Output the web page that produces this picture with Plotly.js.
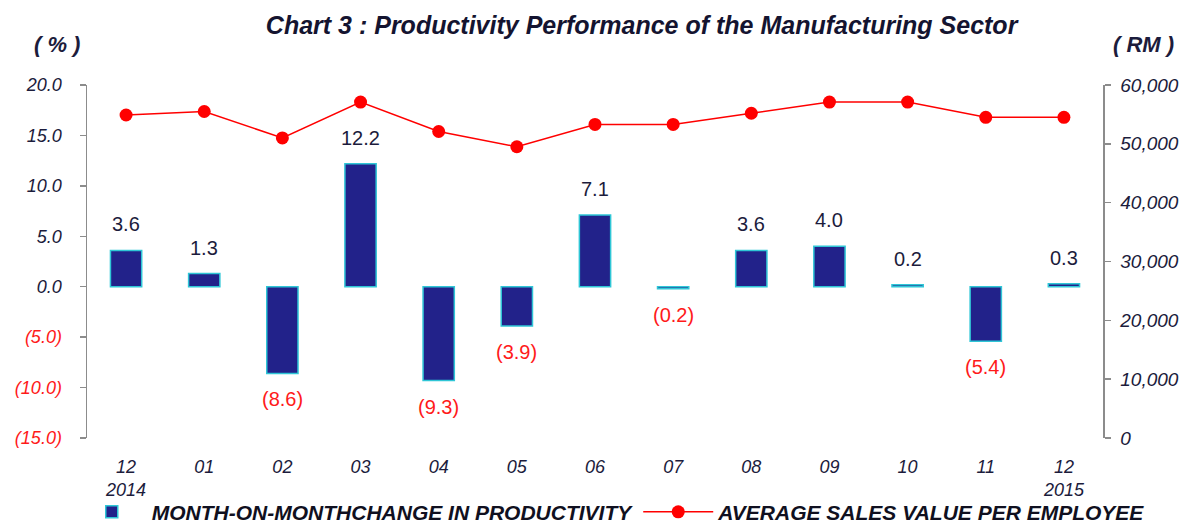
<!DOCTYPE html>
<html>
<head>
<meta charset="utf-8">
<script src="https://cdn.plot.ly/plotly-3.0.1.min.js"></script>
<style>
html,body{margin:0;padding:0;background:#fff;}
#chart{width:1186px;height:526px;}
</style>
</head>
<body>
<div id="chart"></div>
<script>
// ---- data ----
var months = ["12", "01", "02", "03", "04", "05", "06", "07", "08", "09", "10", "11", "12"];
var years  = ["2014", "", "", "", "", "", "", "", "", "", "", "", "2015"];
var momChange = [3.6, 1.3, -8.6, 12.2, -9.3, -3.9, 7.1, -0.2, 3.6, 4.0, 0.2, -5.4, 0.3];
var avgSales = [54900, 55500, 51000, 57100, 52100, 49500, 53300, 53300, 55200, 57100, 57100, 54500, 54500];
var leftTicks = [-15, -10, -5, 0, 5, 10, 15, 20];
var rightTicks = [0, 10000, 20000, 30000, 40000, 50000, 60000];
var barName = "MONTH-ON-MONTHCHANGE IN PRODUCTIVITY";
var lineName = "AVERAGE SALES VALUE PER EMPLOYEE";

// ---- styling ----
var NAVY = "#22228a";
var TEXTDARK = "#1c1c3c";
var RED = "#ff1a1a";
var AXIS = "#8c8c8c";
var FONT = "Liberation Sans, Arial, sans-serif";

var idx = months.map(function(_, i){ return i; });
var tickText = months.map(function(m, i){ return years[i] ? m + "<br>" + years[i] : m; });

function fmtPct(v){
  var s = Math.abs(v).toFixed(1);
  return v < 0 ? "(" + s + ")" : s;
}
var leftTickText = leftTicks.map(function(v){
  return v < 0 ? '<span style="color:' + RED + '">' + fmtPct(v) + '</span>' : fmtPct(v);
});

var bars = {
  type: "bar",
  x: idx,
  y: momChange,
  name: barName,
  width: 0.4,
  marker: { color: NAVY, line: { color: "#2fc6d6", width: 1.5 } },
  hoverinfo: "skip",
  xaxis: "x", yaxis: "y"
};

var line = {
  type: "scatter",
  mode: "lines+markers",
  x: idx,
  y: avgSales,
  name: lineName,
  line: { color: "#ff0000", width: 1.5 },
  marker: { color: "#ff0000", size: 13 },
  hoverinfo: "skip",
  xaxis: "x", yaxis: "y2"
};

var annotations = momChange.map(function(v, i){
  return {
    x: i, y: v, xref: "x", yref: "y",
    text: fmtPct(v),
    showarrow: false,
    yanchor: "middle",
    yshift: v >= 0 ? 26 : -26,
    font: { family: FONT, size: 20, color: v >= 0 ? TEXTDARK : RED }
  };
});
annotations.push({
  text: "<b><i>( % )</i></b>", xref: "paper", yref: "paper",
  x: -0.0295, y: 1.115, xanchor: "center", yanchor: "middle", showarrow: false,
  font: { family: FONT, size: 22, color: TEXTDARK }
});
annotations.push({
  text: "<b><i>( RM )</i></b>", xref: "paper", yref: "paper",
  x: 1.04, y: 1.115, xanchor: "center", yanchor: "middle", showarrow: false,
  font: { family: FONT, size: 22, color: TEXTDARK }
});

var boundaries = [];
for (var b = 0; b <= months.length; b++) boundaries.push(b - 0.5);

var layout = {
  width: 1186, height: 526,
  paper_bgcolor: "#fff", plot_bgcolor: "rgba(0,0,0,0)",
  margin: { l: 87, r: 83, t: 85, b: 88, autoexpand: false },
  font: { family: FONT, color: TEXTDARK },
  showlegend: true,
  title: {
    text: "<b><i>Chart 3 : Productivity Performance of the Manufacturing Sector</i></b>",
    font: { family: FONT, size: 25, color: "#141430" },
    x: 0.541, xanchor: "center", xref: "container",
    y: 0.952, yanchor: "middle", yref: "container"
  },
  bargap: 0,
  xaxis: {
    range: [-0.5, months.length - 0.5],
    tickmode: "array", tickvals: idx, ticktext: tickText,
    showline: false, showgrid: false, zeroline: false, ticks: "",
    ticklabelstandoff: 16,
    tickfont: { family: FONT, size: 18, color: TEXTDARK, style: "italic" },
    fixedrange: true
  },
  xaxis2: {
    overlaying: "x", anchor: "free",
    position: 15 / 35,
    range: [-0.5, months.length - 0.5],
    tickmode: "array", tickvals: boundaries,
    ticks: "outside", ticklen: 6, tickcolor: AXIS, tickwidth: 1.5,
    minor: { tickmode: "array", tickvals: idx, ticks: "inside", ticklen: 5, tickcolor: AXIS, tickwidth: 1.5 },
    showticklabels: false,
    showline: true, linecolor: AXIS, linewidth: 1.5,
    showgrid: false, zeroline: false
  },
  yaxis: {
    range: [-15, 20],
    tickmode: "array", tickvals: leftTicks, ticktext: leftTickText,
    showline: true, linecolor: AXIS, linewidth: 1.5,
    ticks: "outside", ticklen: 6, tickcolor: AXIS, tickwidth: 1.5,
    ticklabelstandoff: 14,
    showgrid: false, zeroline: false,
    tickfont: { family: FONT, size: 18, color: TEXTDARK, style: "italic" }
  },
  yaxis2: {
    overlaying: "y", side: "right",
    range: [0, 60000],
    tickmode: "array", tickvals: rightTicks, tickformat: ",",
    showline: true, linecolor: AXIS, linewidth: 1.5,
    ticks: "outside", ticklen: 6, tickcolor: AXIS, tickwidth: 1.5,
    ticklabelstandoff: 6,
    showgrid: false, zeroline: false,
    tickfont: { family: FONT, size: 19, color: TEXTDARK, style: "italic" }
  },
  legend: {
    orientation: "h",
    x: -0.015, xanchor: "left",
    y: -0.21, yanchor: "middle",
    font: { family: FONT, size: 21, color: "#101020", weight: "bold", style: "italic" },
    bgcolor: "rgba(0,0,0,0)",
    itemwidth: 70,
    tracegroupgap: 0
  },
  annotations: annotations
};

Plotly.newPlot("chart", [bars, line], layout, { staticPlot: true, displayModeBar: false });
</script>
</body>
</html>
